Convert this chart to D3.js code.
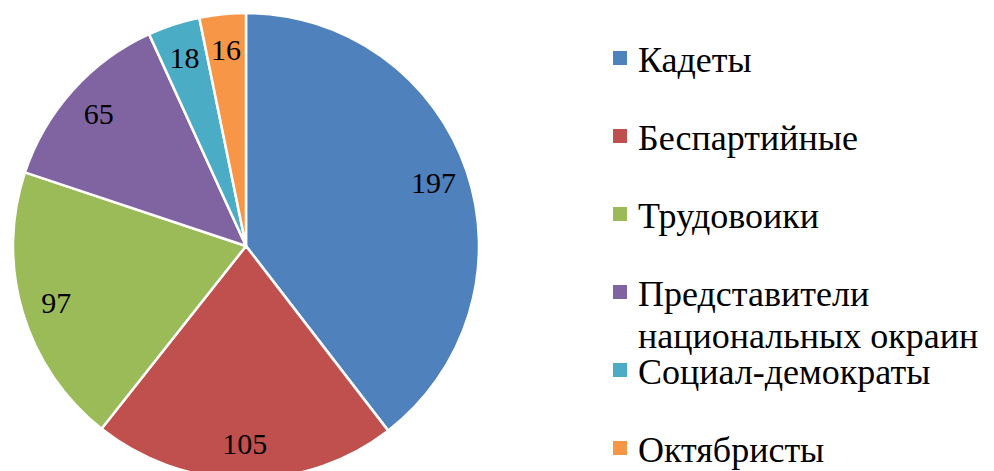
<!DOCTYPE html>
<html><head><meta charset="utf-8">
<script src="https://cdn.jsdelivr.net/npm/d3@7"></script>
<style>body{margin:0;background:#fff}svg{display:block}
text{font-family:"Liberation Serif","Noto Serif","DejaVu Serif","Tinos","FreeSerif","Times New Roman",Times,serif}</style>
</head><body>
<svg id="chart" width="994" height="471"></svg>
<script>
const categories = ["Кадеты","Беспартийные","Трудовоики","Представители национальных окраин","Социал-демократы","Октябристы"];
const legendLines = [["Кадеты"],["Беспартийные"],["Трудовоики"],["Представители","национальных окраин"],["Социал-демократы"],["Октябристы"]];
const values = [197,105,97,65,18,16];
const colors = ["#4F81BD","#C0504D","#9BBB59","#8064A2","#4BACC6","#F79646"];

const svg = d3.select("#chart");
const cx = 246, cy = 246, R = 233;
const data = categories.map((c,i)=>({name:c, value:values[i], lines:legendLines[i]}));
const color = d3.scaleOrdinal().domain(categories).range(colors);
const pie = d3.pie().value(d=>d.value).sort(null);
const arcs = pie(data);
const arc = d3.arc().innerRadius(0).outerRadius(R);
const labelArc = d3.arc().innerRadius(198).outerRadius(198);

const g = svg.append("g").attr("transform",`translate(${cx},${cy})`);
g.selectAll("path").data(arcs).join("path")
  .attr("d",arc).attr("fill",d=>color(d.data.name))
  .attr("stroke","#fff").attr("stroke-width",2.5).attr("stroke-linejoin","round");
g.selectAll("text").data(arcs).join("text")
  .attr("transform",d=>`translate(${labelArc.centroid(d)})`)
  .attr("text-anchor","middle").attr("dy","0.35em")
  .attr("font-size",30).attr("fill","#000")
  .text(d=>d.data.value);

const ly = d3.scaleLinear().domain([0,5]).range([72,462]);
const leg = svg.append("g").selectAll("g").data(data).join("g")
  .attr("transform",(d,i)=>`translate(613,${ly(i)})`);
leg.append("rect").attr("x",0).attr("y",-21).attr("width",14).attr("height",14)
  .attr("fill",d=>color(d.name));
const t = leg.append("text").attr("x",25)
  .attr("font-size",36).attr("fill","#000");
t.selectAll("tspan").data(d=>d.lines).join("tspan")
  .attr("x",25).attr("dy",(d,i)=>i===0?0:42).text(d=>d);
</script>
</body></html>
